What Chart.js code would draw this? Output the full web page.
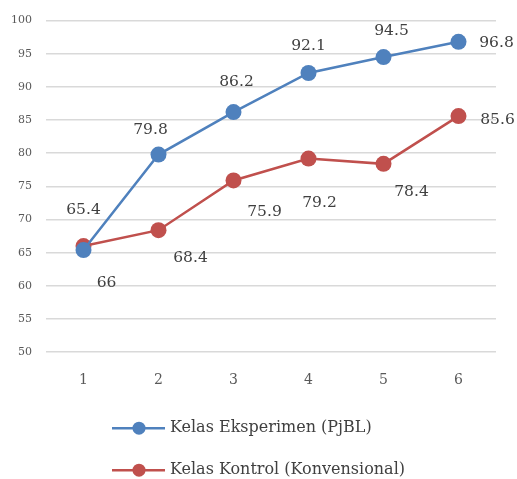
<!DOCTYPE html>
<html>
<head>
<meta charset="utf-8">
<script src="https://cdn.jsdelivr.net/npm/chart.js@4"></script>
<style>
  html, body { margin: 0; padding: 0; background: #fff; }
  #wrap { width: 517px; height: 479px; }
</style>
</head>
<body>
<div id="wrap"><canvas id="grafico"></canvas></div>
<script>
const labels = ['1', '2', '3', '4', '5', '6']
const eksperimen = [65.4, 79.8, 86.2, 92.1, 94.5, 96.8]
const kontrol = [66, 68.4, 75.9, 79.2, 78.4, 85.6]
const yTicks = [50, 55, 60, 65, 70, 75, 80, 85, 90, 95, 100]

const BIRU = '#4F81BD'
const MERAH = '#C0504D'
const FONTE = "'DejaVu Serif', serif"

// posição dos rótulos de dados (deslocamento em px a partir do ponto)
const offsetsBiru = [[0, -40], [-8, -25], [3, -30], [0, -27], [8, -26], [38, 1]]
const offsetsMerah = [[23, 37], [32, 28], [31, 32], [11, 44], [28, 28], [39, 4]]

const rotulosPlugin = {
    id: 'rotulos',
    afterDatasetsDraw(chart) {
        const ctx = chart.ctx
        ctx.save()
        ctx.font = '15.5px ' + FONTE
        ctx.fillStyle = '#404040'
        ctx.textAlign = 'center'
        ctx.textBaseline = 'middle'
        chart.data.datasets.forEach((ds, di) => {
            const meta = chart.getDatasetMeta(di)
            meta.data.forEach((pt, i) => {
                const off = ds.offsets[i]
                ctx.fillText(String(ds.data[i]), pt.x + off[0], pt.y + off[1])
            })
        })
        ctx.restore()
    }
}

const legendaPlugin = {
    id: 'legenda',
    afterDraw(chart) {
        const ctx = chart.ctx
        ctx.save()
        ctx.font = '16px ' + FONTE
        ctx.textBaseline = 'middle'
        const larguras = chart.data.datasets.map(ds => ctx.measureText(ds.label).width)
        const total = 58 + Math.max(...larguras)
        const x0 = (chart.width - total) / 2
        chart.data.datasets.forEach((ds, di) => {
            const y = chart.chartArea.bottom + 76 + di * 42
            ctx.strokeStyle = ds.borderColor
            ctx.lineWidth = 2.5
            ctx.beginPath()
            ctx.moveTo(x0, y)
            ctx.lineTo(x0 + 53, y)
            ctx.stroke()
            ctx.fillStyle = ds.backgroundColor
            ctx.beginPath()
            ctx.arc(x0 + 27, y, 6.5, 0, Math.PI * 2)
            ctx.fill()
            ctx.fillStyle = '#404040'
            ctx.fillText(ds.label, x0 + 58, y)
        })
        ctx.restore()
    }
}

const ctx = document.querySelector('#grafico')
const chart = new Chart(ctx, {
    type: 'line',
    data: {
        labels,
        datasets: [
            {
                label: 'Kelas Eksperimen (PjBL)',
                data: eksperimen,
                offsets: offsetsBiru,
                borderColor: BIRU,
                backgroundColor: BIRU,
                borderWidth: 2.5,
                pointRadius: 8,
                pointHoverRadius: 8,
                pointBorderWidth: 0
            },
            {
                label: 'Kelas Kontrol (Konvensional)',
                data: kontrol,
                offsets: offsetsMerah,
                borderColor: MERAH,
                backgroundColor: MERAH,
                borderWidth: 2.5,
                pointRadius: 8,
                pointHoverRadius: 8,
                pointBorderWidth: 0
            }
        ]
    },
    options: {
        responsive: true,
        maintainAspectRatio: false,
        animation: false,
        layout: { padding: { top: 17, right: 21, bottom: 70, left: 0 } },
        plugins: {
            legend: { display: false },
            tooltip: { enabled: false }
        },
        scales: {
            x: {
                offset: true,
                grid: { display: false, drawTicks: false },
                border: { display: false },
                ticks: { color: '#595959', font: { family: FONTE, size: 14 }, padding: 20 }
            },
            y: {
                min: 50,
                max: 100,
                afterBuildTicks: (scale) => { scale.ticks = yTicks.map(v => ({ value: v })) },
                afterFit: (scale) => { scale.width = 46 },
                grid: { color: '#D9D9D9', lineWidth: 1.5, drawTicks: false },
                border: { display: false },
                ticks: { color: '#595959', font: { family: FONTE, size: 11 }, padding: 14 }
            }
        }
    },
    plugins: [rotulosPlugin, legendaPlugin]
})
</script>
</body>
</html>
